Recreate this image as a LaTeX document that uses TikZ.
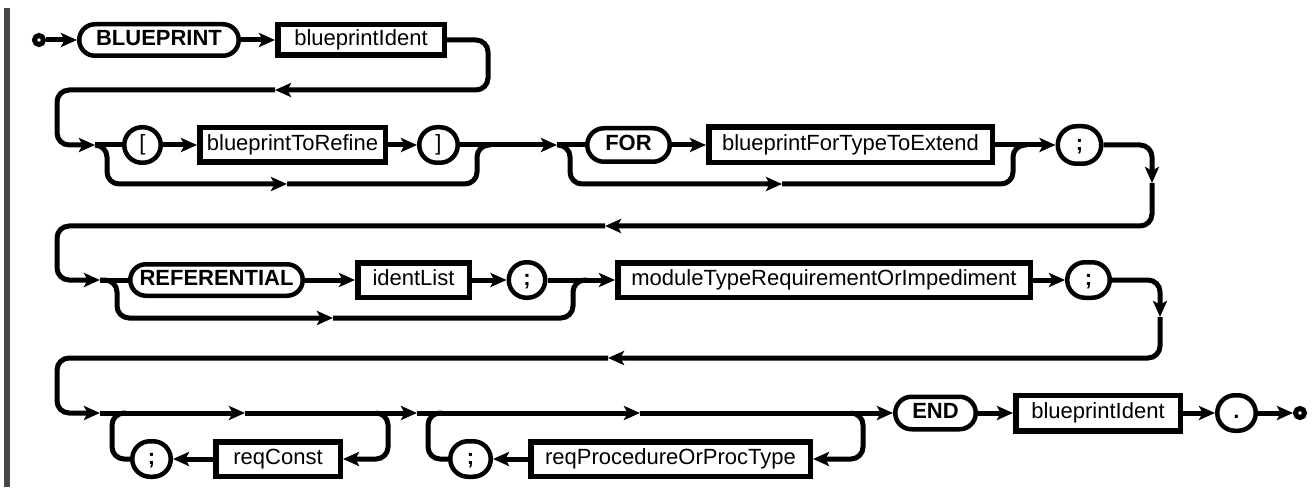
\documentclass[tikz,border=0pt]{standalone}
\usepackage{fontspec}
\setmainfont{Liberation Sans}
\usetikzlibrary{arrows.meta}
\begin{document}
\begin{tikzpicture}[x=1pt,y=-1pt,
  >={Stealth[length=16pt,width=14pt,inset=3.5pt]},
  conn/.style={line width=5pt, rounded corners=12pt},
  term/.style 2 args={draw, line width=4.5pt, inner sep=0pt, minimum width=#1-4.5pt, minimum height=#2-4.5pt, rounded corners=0.499*#2-2.25pt, text height=16pt, text depth=4.5pt, font=\fontsize{22}{26}\selectfont\bfseries},
  nt/.style 2 args={draw, line width=5.5pt, inner sep=0pt, minimum width=#1-5.5pt, minimum height=#2-5.5pt, text height=16pt, text depth=4.5pt, font=\fontsize{22}{26}\selectfont},
  plain/.style={font=\fontsize{22}{26}\selectfont},
  dotc/.style={draw, circle, line width=5pt, minimum size=9pt, inner sep=0pt}
]
\useasboundingbox (0,0) rectangle (1312,489);
\fill[black!72] (4,8) rectangle (10,487);

% ---------- row 1
\node[dotc] (start) at (39,40) {};
\node[term={164pt}{36pt}] (bp) at (159,40) {BLUEPRINT};
\node[nt={172pt}{36pt}] (id1) at (361,40) {blueprintIdent};
\coordinate (c1) at (488,90);
\coordinate (a1) at (275,90);
\coordinate (J1) at (95,145);
\draw[conn,->] (start) -- (bp);
\draw[conn,->] (bp) -- (id1);
\draw[conn,->] (id1) -| (c1) -- (a1);
\draw[conn,->] (a1) -| (57,145) -- (J1);

% ---------- row 2
\node[term={41pt}{40pt}, plain] (lb) at (142.5,145) {[};
\node[nt={191pt}{40pt}] (btr) at (292.5,145) {blueprintToRefine};
\node[term={43pt}{40pt}, plain] (rb) at (438.5,145) {]};
\coordinate (J2) at (557,145);
\coordinate (a2) at (287,184);
\draw[conn] (J1) -- (lb);
\draw[conn,->] (lb) -- (btr);
\draw[conn,->] (btr) -- (rb);
\draw[conn,->] (rb) -- (J2);
\draw[conn,->] (J1) -| (107,184) -- (a2);
\draw[conn] (a2) -| (477,145) -- (491,145);

\node[term={87pt}{38pt}] (for) at (628.5,145) {FOR};
\node[nt={289pt}{41pt}] (bft) at (850.5,145) {blueprintForTypeToExtend};
\node[term={48pt}{42pt}] (s1) at (1079.5,145) {;};
\coordinate (a3) at (782,184);
\coordinate (a4) at (1152,183);
\coordinate (a5) at (605,226);
\coordinate (J3) at (100,280);
\draw[conn] (J2) -- (for);
\draw[conn,->] (for) -- (bft);
\draw[conn,->] (bft) -- (s1);
\draw[conn,->] (J2) -| (570,184) -- (a3);
\draw[conn] (a3) -| (1013,145) -- (1027,145);
\draw[conn,->] (s1) -| (a4);
\draw[conn,->] (a4) |- (a5);
\draw[conn,->] (a5) -| (57,280) -- (J3);

% ---------- row 3
\node[term={177pt}{36pt}] (ref) at (216.5,280) {REFERENTIAL};
\node[nt={117pt}{40pt}] (idl) at (413.5,280) {identList};
\node[term={41pt}{40pt}] (s2) at (527,280) {;};
\node[nt={418pt}{40pt}] (mod) at (824,280) {moduleTypeRequirementOrImpediment};
\node[term={47pt}{40pt}] (s3) at (1088.5,280) {;};
\coordinate (a6) at (333,318);
\coordinate (a7) at (1160,317);
\coordinate (a8) at (608,358);
\coordinate (J4) at (100,413);
\draw[conn] (J3) -- (ref);
\draw[conn,->] (ref) -- (idl);
\draw[conn,->] (idl) -- (s2);
\draw[conn,->] (s2) -- (mod);
\draw[conn,->] (J3) -| (117,318) -- (a6);
\draw[conn] (a6) -| (573,280) -- (587,280);
\draw[conn,->] (mod) -- (s3);
\draw[conn,->] (s3) -| (a7);
\draw[conn,->] (a7) |- (a8);
\draw[conn,->] (a8) -| (57,413) -- (J4);

% ---------- row 4
\node[nt={130pt}{40pt}] (rc) at (278,459) {reqConst};
\node[term={43pt}{40pt}] (s4) at (151.5,459) {;};
\node[nt={285pt}{40pt}] (rp) at (670.5,459) {reqProcedureOrProcType};
\node[term={45pt}{40pt}] (s5) at (470.5,459) {;};
\node[term={85pt}{37pt}] (endk) at (935.5,413) {END};
\node[nt={170pt}{41pt}] (id2) at (1098,413) {blueprintIdent};
\node[term={43pt}{40pt}] (dot) at (1236.5,413) {.};
\node[dotc] (fin) at (1300,413) {};
\coordinate (a9) at (245,413);
\coordinate (J5) at (417,413);
\coordinate (a10) at (640,413);
\coordinate (l1) at (376,413);
\coordinate (l2) at (851,413);
\draw[conn,->] (J4) -- (a9);
\draw[conn,->] (a9) -- (J5);
\draw[conn,->] (l1) -| (388,459) -- (rc);
\draw[conn,->] (rc) -- (s4);
\draw[conn] (s4) -| (112,413) -- (126,413);
\draw[conn,->] (J5) -- (a10);
\draw[conn,->] (a10) -- (endk);
\draw[conn,->] (l2) -| (863,459) -- (rp);
\draw[conn,->] (rp) -- (s5);
\draw[conn] (s5) -| (428,413) -- (442,413);
\draw[conn,->] (endk) -- (id2);
\draw[conn,->] (id2) -- (dot);
\draw[conn,->] (dot) -- (fin);
\end{tikzpicture}
\end{document}
